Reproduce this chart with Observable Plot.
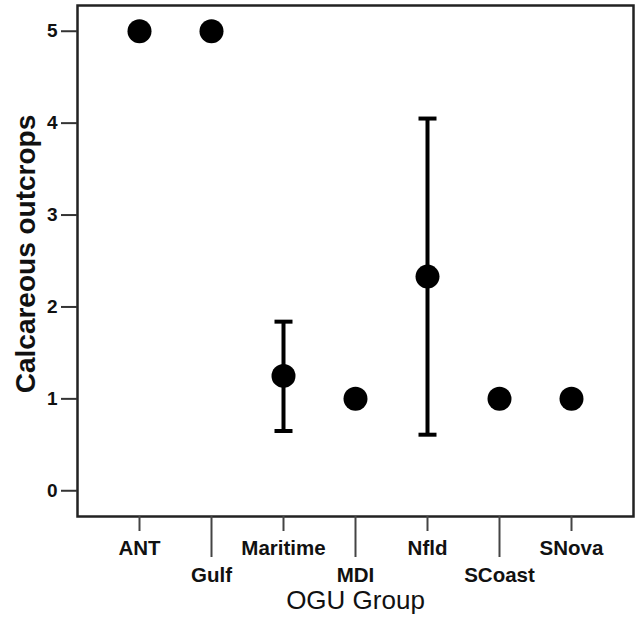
<!DOCTYPE html>
<html>
<head>
<meta charset="utf-8">
<script src="https://cdn.jsdelivr.net/npm/d3@7"></script>
<script src="https://cdn.jsdelivr.net/npm/@observablehq/plot@0.6"></script>
<style>
  html, body { margin: 0; padding: 0; background: #fff; }
  #chart svg { display: block; }
</style>
</head>
<body>
<div id="chart"></div>
<script>
const groups = ["ANT", "Gulf", "Maritime", "MDI", "Nfld", "SCoast", "SNova"];
const means  = [5, 5, 1.25, 1, 2.33, 1, 1];
const lows   = [null, null, 0.65, null, 0.61, null, null];
const highs  = [null, null, 1.84, null, 4.05, null, null];
const yTicks = [0, 1, 2, 3, 4, 5];
const upperRowLabels = ["ANT", "Maritime", "Nfld", "SNova"];
const lowerRowLabels = ["Gulf", "MDI", "SCoast"];

const rows = groups.map((g, i) => ({group: g, mean: means[i], low: lows[i], high: highs[i]}));
const errRows = rows.filter(d => d.low != null);

const capSymbol = { draw(ctx, size) { ctx.moveTo(-9, 0); ctx.lineTo(9, 0); } };
const font = "Liberation Sans, Arial, Helvetica, sans-serif";

const chart = Plot.plot({
  width: 636,
  height: 621,
  marginLeft: 77,
  marginRight: 3,
  marginTop: 5,
  marginBottom: 105,
  style: { fontFamily: font, color: "#111", background: "#fff" },
  x: { type: "point", domain: groups, padding: 0.86, axis: null },
  y: { domain: [-0.28, 5.28], axis: null },
  marks: [
    Plot.frame({ stroke: "#222", strokeWidth: 2.5 }),
    Plot.axisY(yTicks, { tickSize: 16, tickPadding: 4, tickFormat: "d", fontSize: 19, fontWeight: "bold", strokeWidth: 2, stroke: "#333", label: null, fill: "#111" }),
    Plot.axisX(upperRowLabels, { tickSize: 15, tickPadding: 9, fontSize: 20.5, fontWeight: "bold", strokeWidth: 2, stroke: "#444", label: null, fill: "#111" }),
    Plot.axisX(lowerRowLabels, { tickSize: 41, tickPadding: 10, fontSize: 20.5, fontWeight: "bold", strokeWidth: 2, stroke: "#444", label: null, fill: "#111" }),
    Plot.ruleX(errRows, { x: "group", y1: "low", y2: "high", stroke: "#000", strokeWidth: 4 }),
    Plot.dot(errRows, { x: "group", y: "low", symbol: capSymbol, stroke: "#000", strokeWidth: 4, fill: "none" }),
    Plot.dot(errRows, { x: "group", y: "high", symbol: capSymbol, stroke: "#000", strokeWidth: 4, fill: "none" }),
    Plot.dot(rows, { x: "group", y: "mean", r: 12, fill: "#000", stroke: "none" }),
    Plot.text(["OGU Group"], { frameAnchor: "bottom", dy: 92, fontSize: 26, fill: "#111" }),
    Plot.text(["Calcareous outcrops"], { frameAnchor: "left", textAnchor: "middle", dx: -51, dy: -7, rotate: -90, fontSize: 28, fontWeight: "bold", fill: "#111" })
  ]
});
document.getElementById("chart").appendChild(chart);
</script>
</body>
</html>
